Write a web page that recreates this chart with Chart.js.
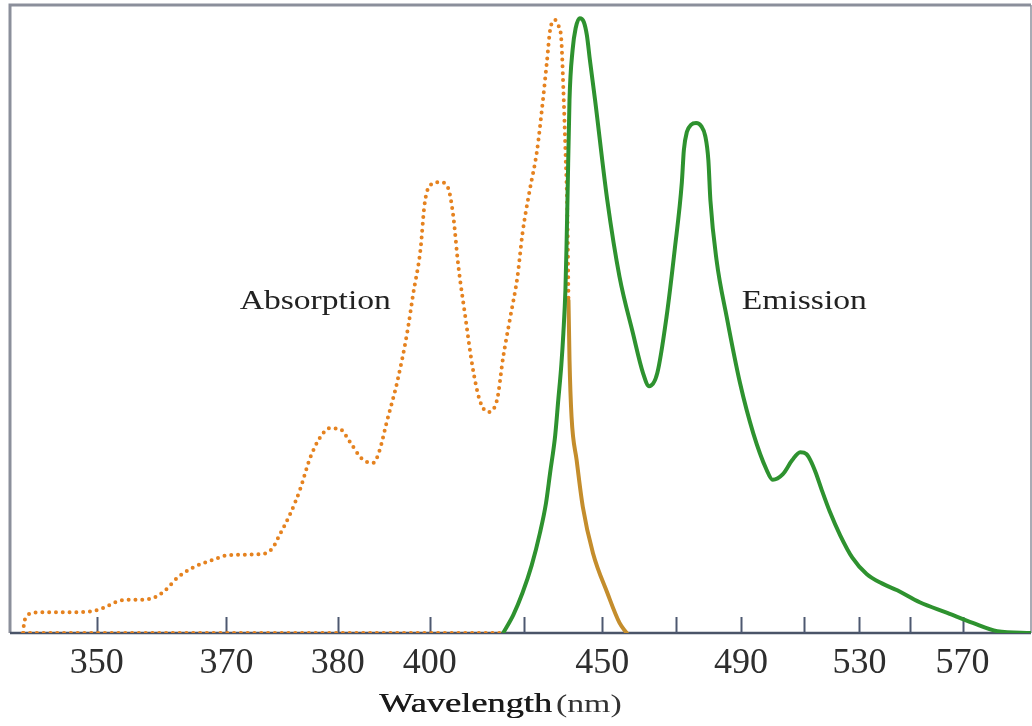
<!DOCTYPE html>
<html>
<head>
<meta charset="utf-8">
<script src="https://cdn.jsdelivr.net/npm/chart.js@4.4.1/dist/chart.umd.min.js"></script>
<style>
  html, body { margin: 0; padding: 0; background: #ffffff; }
  #wrap { width: 1032px; height: 726px; }
</style>
</head>
<body>
<div id="wrap"><canvas id="c" width="1032" height="726"></canvas></div>
<script>
// ---- Data (x in relative axis position units 0-100, y in relative intensity 0-100) ----
const xTickPos    = [8.5, 21.2, 32.1, 41.1, 50.3, 58.0, 65.2, 71.6, 77.8, 83.2, 88.1, 93.3];
const xTickLabels = ['350', '370', '380', '400', '', '450', '', '490', '', '530', '', '570'];

const absorptionX = [1.3, 1.35, 1.6, 2.3, 3.4, 5.9, 8.1, 9.3, 10.3, 11.5, 13.0, 14.2, 15.2, 16.4, 17.9, 19.6,
  21.5, 24.8, 25.7, 26.4, 27.4, 28.4, 29.4, 30.4, 31.3, 32.3, 33.3, 34.5, 35.6, 36.2, 36.9, 37.9, 38.9,
  39.5, 40.2, 40.6, 41.1, 42.1, 42.9, 43.4, 43.9, 44.6, 45.3, 46.0, 46.8, 47.7, 48.3, 49.0, 49.7, 50.2,
  50.9, 51.6, 52.2, 52.6, 52.9, 53.4, 53.7, 54.0, 54.2, 54.4, 54.6, 54.7, 54.8, 55.0, 55.5, 56.1, 57.1,
  58.5, 59.7, 60.4];
const absorptionY = [0, 1.2, 2.5, 3.2, 3.3, 3.3, 3.5, 4.1, 4.9, 5.3, 5.3, 5.7, 6.8, 8.8, 10.4, 11.5,
  12.4, 12.6, 13.5, 15.6, 18.8, 22.8, 27.9, 31.2, 32.6, 32.5, 30.4, 27.7, 27.1, 29.1, 33.6, 39.8, 47.8,
  54.1, 61.0, 68.2, 71.2, 71.8, 70.9, 66.6, 58.6, 50.3, 42.4, 37.1, 35.2, 37.1, 43.9, 50.3, 56.7, 63.7,
  70.5, 76.6, 84.9, 91.2, 96.0, 97.6, 96.8, 94.4, 86.5, 76.9, 65.8, 53.0, 43.5, 34.4, 27.5, 20.1, 12.7,
  6.4, 1.6, 0];

const absBaselineX = [1.3, 48.0];
const absBaselineY = [0, 0];

const emissionX = [48.3, 49.3, 50.2, 51.1, 51.9, 52.5, 52.9, 53.4, 53.7, 54.0, 54.2, 54.4, 54.5, 54.6,
  54.8, 55.1, 55.4, 55.8, 56.2, 56.5, 56.8, 57.3, 58.5, 59.7, 61.0, 62.0, 62.6, 63.4, 64.3, 65.1, 65.8,
  66.0, 66.3, 66.7, 67.2, 67.7, 68.1, 68.4, 68.6, 69.2, 70.2, 71.5, 72.8, 74.1, 74.7, 75.7, 76.6, 77.4,
  78.0, 78.4, 78.9, 79.5, 80.3, 81.3, 82.5, 83.9, 85.4, 86.9, 89.1, 91.8, 94.3, 96.7, 100];
const emissionY = [0, 2.9, 6.4, 10.8, 15.9, 20.7, 25.5, 31.5, 37.1, 42.7, 47.8, 54.6, 61.0, 68.9,
  84.9, 92.8, 96.3, 97.9, 97.3, 95.2, 91.2, 84.9, 68.9, 56.7, 47.8, 41.4, 39.3, 41.4, 50.3, 61.0, 71.7,
  76.9, 79.8, 80.9, 81.2, 80.7, 79.1, 75.3, 68.9, 59.4, 50.3, 39.8, 31.8, 26.0, 24.4, 25.3, 27.5, 28.8,
  28.5, 27.5, 25.6, 22.8, 19.3, 15.6, 12.0, 9.4, 7.9, 6.8, 4.9, 3.2, 1.6, 0.3, 0];

const toPts = (xs, ys) => xs.map((x, i) => ({ x: x, y: ys[i] }));

const ORANGE = '#e5821f';
const TAIL = '#c48d2c';
const GREEN = '#2e922f';

const framePlugin = {
  id: 'frame',
  beforeDatasetsDraw(chart) {
    const { ctx, chartArea: a, scales } = chart;
    ctx.save();
    ctx.strokeStyle = '#8b8f9b';
    ctx.lineWidth = 3;
    ctx.beginPath();
    ctx.moveTo(a.left, a.bottom);
    ctx.lineTo(a.left, a.top);
    ctx.lineTo(a.right, a.top);
    ctx.stroke();
    ctx.lineWidth = 1.5;
    ctx.beginPath();
    ctx.moveTo(a.right, a.top);
    ctx.lineTo(a.right, a.bottom);
    ctx.stroke();
    ctx.strokeStyle = '#4a5468';
    ctx.lineWidth = 2.5;
    ctx.beginPath();
    ctx.moveTo(a.left, a.bottom);
    ctx.lineTo(a.right, a.bottom);
    ctx.stroke();
    ctx.strokeStyle = '#4d5870';
    ctx.lineWidth = 2;
    xTickPos.forEach(v => {
      const px = Math.round(scales.x.getPixelForValue(v)) + 0.5;
      ctx.beginPath();
      ctx.moveTo(px, a.bottom);
      ctx.lineTo(px, a.bottom - 16);
      ctx.stroke();
    });
    ctx.restore();
  },
  afterDraw(chart) {
    const { ctx, scales } = chart;
    ctx.save();
    ctx.textAlign = 'center';
    ctx.textBaseline = 'middle';
    const drawStretched = (text, cx, cy, font, sx, color) => {
      ctx.save();
      ctx.translate(cx, cy);
      ctx.scale(sx, 1);
      ctx.font = font;
      ctx.fillStyle = color;
      ctx.fillText(text, 0, 0);
      ctx.restore();
    };
    drawStretched('Absorption', scales.x.getPixelForValue(29.9), scales.y.getPixelForValue(52.7),
      '28px "Liberation Serif"', 1.2, '#222222');
    drawStretched('Emission', scales.x.getPixelForValue(77.8), scales.y.getPixelForValue(52.7),
      '28px "Liberation Serif"', 1.2, '#222222');
    ctx.textAlign = 'left';
    ctx.font = '28px "Liberation Serif"';
    const w1 = ctx.measureText('Wavelength').width * 1.3;
    const startX = 379;
    const cy = 705;
    drawStretched('Wavelength', startX, cy, '28px "Liberation Serif"', 1.3, '#1a1a1a');
    drawStretched('Wavelength', startX + 0.6, cy, '28px "Liberation Serif"', 1.3, '#1a1a1a');
    drawStretched('(nm)', startX + w1 + 4, cy, '26px "Liberation Serif"', 1.3, '#333333');
    ctx.restore();
  }
};

new Chart(document.getElementById('c'), {
  type: 'line',
  data: {
    datasets: [
      {
        label: 'Absorption baseline',
        data: toPts(absBaselineX, absBaselineY),
        borderColor: ORANGE,
        borderWidth: 4,
        borderDash: [0, 6.8],
        borderCapStyle: 'round',
        pointRadius: 0,
        tension: 0
      },
      {
        label: 'Emission',
        data: toPts(emissionX, emissionY),
        borderColor: GREEN,
        borderWidth: 4,
        pointRadius: 0,
        cubicInterpolationMode: 'monotone'
      },
      {
        label: 'Absorption',
        data: toPts(absorptionX, absorptionY),
        borderColor: ORANGE,
        borderWidth: 4,
        borderDash: [0, 6.8],
        borderCapStyle: 'round',
        pointRadius: 0,
        cubicInterpolationMode: 'monotone',
        segment: {
          borderColor: c => (c.p0.parsed.x >= 54.7 ? TAIL : undefined),
          borderDash: c => (c.p0.parsed.x >= 54.7 ? [] : undefined)
        }
      }
    ]
  },
  options: {
    responsive: false,
    animation: false,
    devicePixelRatio: 1,
    layout: { padding: { left: 10, right: 1, top: 5, bottom: 0 } },
    plugins: { legend: { display: false }, tooltip: { enabled: false } },
    scales: {
      x: {
        type: 'linear',
        min: 0,
        max: 100,
        grid: { display: false, drawTicks: false },
        border: { display: false },
        afterBuildTicks: s => { s.ticks = xTickPos.map(v => ({ value: v })); },
        afterFit: s => { s.height = 93; },
        ticks: {
          autoSkip: false,
          maxRotation: 0,
          padding: 9,
          color: '#2e2e2e',
          font: { family: '"Liberation Serif"', size: 36 },
          callback: (v, i) => xTickLabels[i]
        }
      },
      y: {
        type: 'linear',
        display: false,
        min: 0,
        max: 100
      }
    }
  },
  plugins: [framePlugin]
});
</script>
</body>
</html>
